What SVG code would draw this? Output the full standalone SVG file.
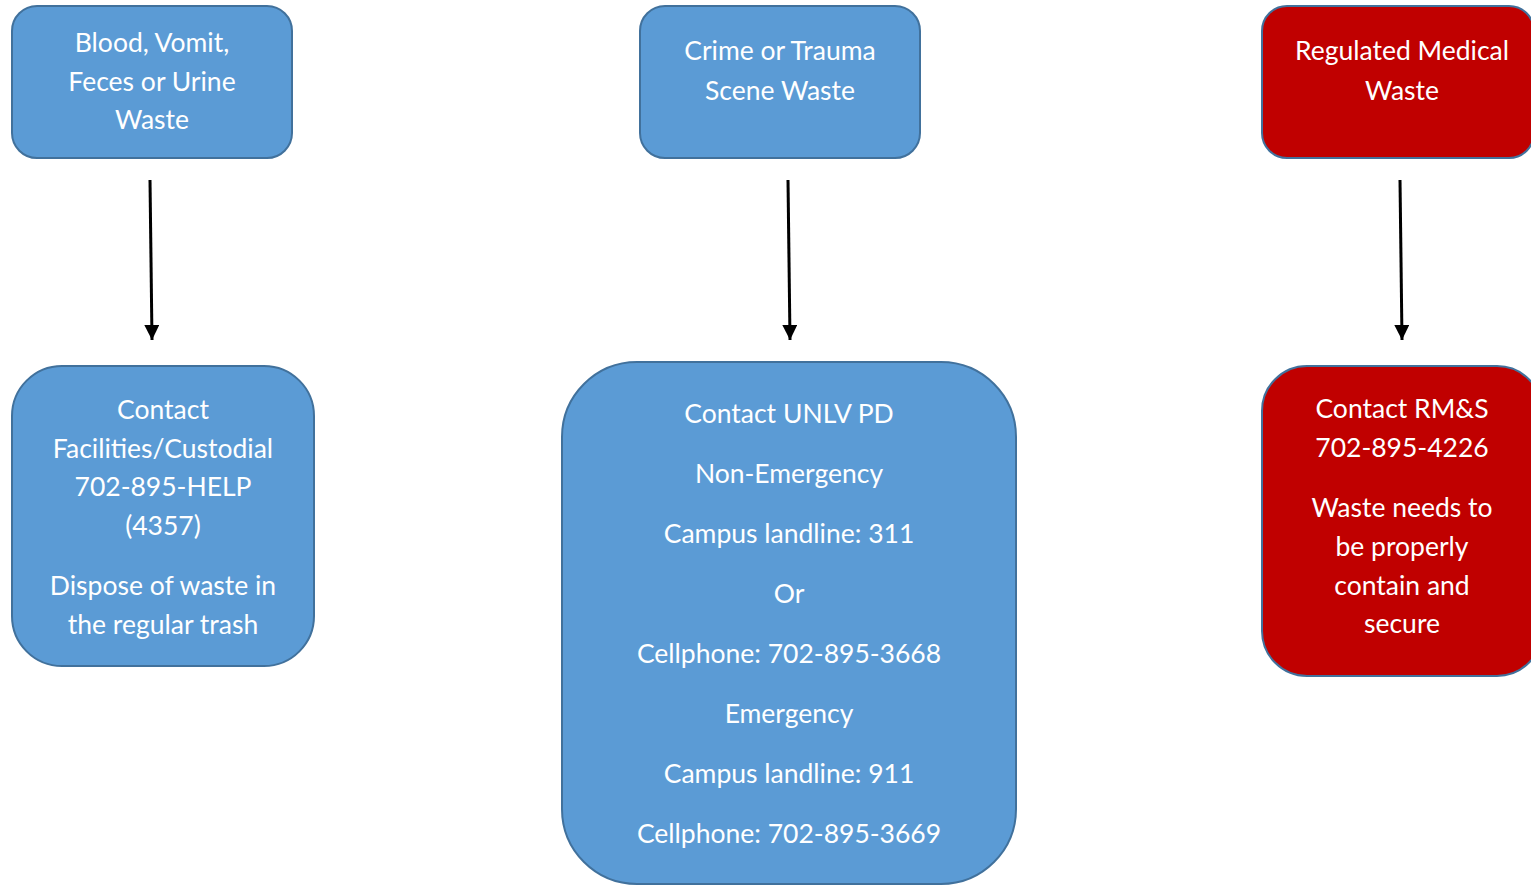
<svg xmlns="http://www.w3.org/2000/svg" width="1531" height="886" viewBox="0 0 1531 886">
<style>
.b{fill:#5B9BD5;stroke:#41719C;stroke-width:2}
.r{fill:#C00000;stroke:#41719C;stroke-width:2}
text{font-family:Lato,"Liberation Sans",sans-serif;font-size:26.5px;fill:#FFFFFF;text-anchor:middle}
.c line{stroke:#000;stroke-width:3}
</style>
<defs>
<marker id="ah" viewBox="0 0 10 10" refX="10" refY="5" markerWidth="5" markerHeight="5" orient="auto" markerUnits="strokeWidth">
<path d="M0,0 L10,5 L0,10 Z" fill="#000"/>
</marker>
</defs>
<rect width="1531" height="886" fill="#fff"/>
<g id="n1"><rect class="b" x="12" y="6" width="280" height="152" rx="25"/>
<text x="152" y="52">Blood, Vomit,</text><text x="152" y="91">Feces or Urine</text><text x="152" y="129">Waste</text></g>
<g id="n2"><rect class="b" x="640" y="6" width="280" height="152" rx="25"/>
<text x="780" y="60">Crime or Trauma</text><text x="780" y="100">Scene Waste</text></g>
<g id="n3"><rect class="r" x="1262" y="6" width="272" height="152" rx="25"/>
<text x="1402" y="60">Regulated Medical</text><text x="1402" y="100">Waste</text></g>
<g id="n4"><rect class="b" x="12" y="366" width="302" height="300" rx="50"/>
<text x="163" y="419">Contact</text><text x="163" y="458">Facilities/Custodial</text><text x="163" y="496">702-895-HELP</text><text x="163" y="535">(4357)</text><text x="163" y="595">Dispose of waste in</text><text x="163" y="634">the regular trash</text></g>
<g id="n5"><rect class="b" x="562" y="362" width="454" height="522" rx="75"/>
<text x="789" y="423">Contact UNLV PD</text><text x="789" y="483">Non-Emergency</text><text x="789" y="543">Campus landline: 311</text><text x="789" y="603">Or</text><text x="789" y="663">Cellphone: 702-895-3668</text><text x="789" y="723">Emergency</text><text x="789" y="783">Campus landline: 911</text><text x="789" y="843">Cellphone: 702-895-3669</text></g>
<g id="n6"><rect class="r" x="1262" y="366" width="280" height="310" rx="45"/>
<text x="1402" y="418">Contact RM&amp;S</text><text x="1402" y="457">702-895-4226</text><text x="1402" y="517">Waste needs to</text><text x="1402" y="556">be properly</text><text x="1402" y="595">contain and</text><text x="1402" y="633">secure</text></g>
<g class="c">
<line x1="150" y1="180" x2="152" y2="340" marker-end="url(#ah)"/>
<line x1="788" y1="180" x2="790" y2="340" marker-end="url(#ah)"/>
<line x1="1400" y1="180" x2="1402" y2="340" marker-end="url(#ah)"/>
</g>
</svg>
